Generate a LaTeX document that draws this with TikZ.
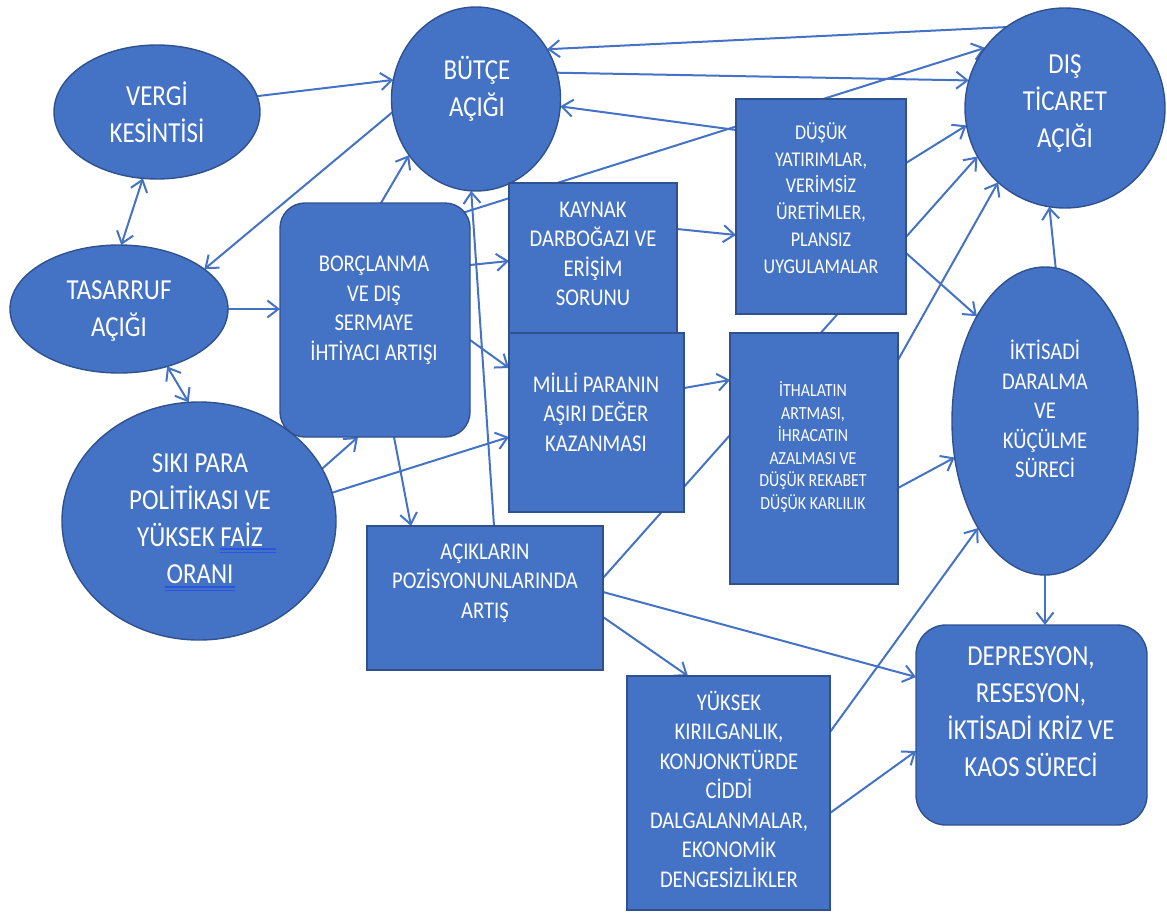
\documentclass[tikz,border=0pt]{standalone}
\usepackage{fontspec}
\setmainfont{Carlito}[FakeStretch=0.86]
\usetikzlibrary{arrows.meta,shapes.geometric,calc}
\definecolor{fillb}{HTML}{4472C4}
\definecolor{bordb}{HTML}{2F528F}
\definecolor{lineb}{HTML}{4472C4}
\definecolor{spell}{HTML}{2A55E0}
\pgfdeclarelayer{bg}
\pgfsetlayers{bg,main}
\begin{document}
\begin{tikzpicture}[x=1pt,y=-1pt,
  shp/.style={fill=fillb, draw=bordb, line width=1.4pt, inner sep=0pt, outer sep=0pt},
  ell/.style={shp, ellipse},
  boxr/.style={shp, rectangle},
  rbox/.style={shp, rectangle, rounded corners=25pt},
  txt/.style={text=white, align=center, inner sep=0pt},
  fbig/.style={font=\fontsize{29}{37}\selectfont},
  fmid/.style={font=\fontsize{24}{29.5}\selectfont},
  fsma/.style={font=\fontsize{21}{26.8}\selectfont},
  ftin/.style={font=\fontsize{18.5}{22.6}\selectfont},
  barb/.tip={Straight Barb[length=11pt,width=17pt]},
  conn/.style={draw=lineb, line width=2pt, -barb},
  conntwo/.style={draw=lineb, line width=2pt, barb-barb},
  spl/.style={draw=spell, line width=1.1pt},
]
\path[use as bounding box] (0,0) rectangle (1167,916);

% shapes
\node[ell, minimum width=206pt, minimum height=134pt] (vergi) at (157,112) {};
\node[ell, minimum width=169pt, minimum height=184pt] (butce) at (476,99) {};
\node[ell, minimum width=200pt, minimum height=200pt] (dis) at (1065,108) {};
\node[ell, minimum width=218pt, minimum height=128pt] (tas) at (119,309) {};
\node[ell, minimum width=274pt, minimum height=238pt] (siki) at (199,521) {};
\node[rbox, minimum width=190pt, minimum height=234pt] (borc) at (375,320) {};
\node[boxr, minimum width=168pt, minimum height=150pt] (kay) at (593,258) {};
\node[boxr, minimum width=175pt, minimum height=179pt] (milli) at (596.5,422.5) {};
\node[boxr, minimum width=170pt, minimum height=215pt] (dusuk) at (821,206.5) {};
\node[boxr, minimum width=168pt, minimum height=251pt] (ithal) at (814,458.5) {};
\node[boxr, minimum width=236pt, minimum height=144pt] (acik) at (485,598) {};
\node[boxr, minimum width=203pt, minimum height=234pt] (yuksek) at (728.5,793) {};
\node[ell, minimum width=186pt, minimum height=308pt] (ikt) at (1045,421) {};
\node[shp, rectangle, rounded corners=30pt, minimum width=231pt, minimum height=200pt] (depr) at (1031.5,725) {};

% texts
\node[txt,fbig] (vergiT) at (157,112) {VERGİ\\KESİNTİSİ};
\node[txt,fbig] (butceT) at (477,89) {BÜTÇE\\AÇIĞI};
\node[txt,fbig] (disT) at (1065,104) {DIŞ\\TİCARET\\AÇIĞI};
\node[txt,fbig] (tasT) at (119,311) {TASARRUF\\AÇIĞI};
\node[txt,fbig] (sikiT) at (200,519) {SIKI PARA\\POLİTİKASI VE\\YÜKSEK FAİZ\\ORANI};
\node[txt,fmid] (borcT) at (374,310) {BORÇLANMA\\VE DIŞ\\SERMAYE\\İHTİYACI ARTIŞI};
\node[txt,fmid] (kayT) at (593,254) {KAYNAK\\DARBOĞAZI VE\\ERİŞİM\\SORUNU};
\node[txt,fmid] (milliT) at (596,412) {MİLLİ PARANIN\\AŞIRI DEĞER\\KAZANMASI};
\node[txt,fsma] (dusukT) at (821,198) {DÜŞÜK\\YATIRIMLAR,\\VERİMSİZ\\ÜRETİMLER,\\PLANSIZ\\UYGULAMALAR};
\node[txt,ftin] (ithalT) at (813,447) {İTHALATIN\\ARTMASI,\\İHRACATIN\\AZALMASI VE\\DÜŞÜK REKABET\\DÜŞÜK KARLILIK};
\node[txt,fmid] (acikT) at (485,583) {AÇIKLARIN\\POZİSYONUNLARINDA\\ARTIŞ};
\node[txt,fmid] (yuksekT) at (729,789) {YÜKSEK\\KIRILGANLIK,\\KONJONKTÜRDE\\CİDDİ\\DALGALANMALAR,\\EKONOMİK\\DENGESİZLİKLER};
\node[txt,fmid] (iktT) at (1045,409) {İKTİSADİ\\DARALMA\\VE\\KÜÇÜLME\\SÜRECİ};
\node[txt,fbig] (deprT) at (1031,712) {DEPRESYON,\\RESESYON,\\İKTİSADİ KRİZ VE\\KAOS SÜRECİ};

% spell-check underlines
\draw[spl] (220,549) -- (276,549) (220,552.5) -- (276,552.5);
\draw[spl] (165,587) -- (235,587) (165,590.5) -- (235,590.5);

% connectors (behind shapes)
\begin{pgfonlayer}{bg}
\draw[conn] (vergi.9) -- (butce.167);
\draw[conntwo] (vergi.258) -- (tas.88);
\draw[conn] (butce.189) -- (tas.25);
\draw[conn] (tas.east) -- (borc.west |- tas.east);
\draw[conntwo] (tas.310) -- (siki.95);
\draw[conn] (siki.23) -- (borc.south -| 358,0);
\draw[conn] (siki.12) -- (milli.west |- 0,437);
\draw[conn] (borc.north -| 381,0) -- (butce.220);
\draw[conn] (borc.east |- 0,265) -- (kay.west |- 0,261);
\draw[conn] (borc.east |- 0,340) -- (milli.west |- 0,368);
\draw[conn] (borc.south -| 394,0) -- (acik.north -| 411,0);
\draw[conn] (acik.north -| 494,0) -- (butce.267);
\draw[conn] ($(borc.north east)+(-30,17)$) -- (dis.143);
\draw[conn] (dis.126) -- (butce.35);
\draw[conn] (butce.18) -- (dis.164);
\draw[conn] (dusuk.west |- 0,130) -- (butce.355);
\draw[conn] (kay.east |- 0,229) -- (dusuk.west |- 0,235);
\draw[conn] (milli.east |- 0,388) -- (ithal.west |- 0,380);
\draw[conn] (dusuk.east |- 0,163) -- (dis.190);
\draw[conn] (acik.east |- 0,578) -- (dis.209);
\draw[conn] (dusuk.east |- 0,253) -- (ikt.123);
\draw[conn] (ithal.east |- 0,360) -- (dis.228);
\draw[conn] (ithal.east |- 0,488) -- (ikt.202);
\draw[conn] (acik.east |- 0,617) -- (yuksek.north -| 688,0);
\draw[conn] (acik.east |- 0,592) -- (depr.west |- 0,677);
\draw[conn] (yuksek.east |- 0,732) -- (ikt.238);
\draw[conn] (yuksek.east |- 0,813) -- (depr.west |- 0,751);
\draw[conn] (ikt.south) -- (depr.north -| ikt.south);
\draw[conn] (ikt.86) -- (dis.261);
\end{pgfonlayer}
\end{tikzpicture}
\end{document}
